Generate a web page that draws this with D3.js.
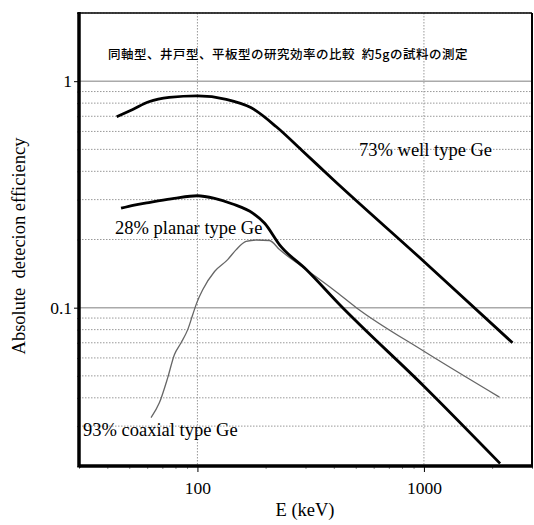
<!DOCTYPE html>
<html>
<head>
<meta charset="utf-8">
<script src="https://cdn.jsdelivr.net/npm/d3@7"></script>
<style>
  body { margin: 0; background: #fff; }
  svg { display: block; }
</style>
</head>
<body>
<svg id="chart" width="534" height="525"></svg>
<script>
const svg = d3.select('#chart');
const serif = '"Liberation Serif", "Times New Roman", Times, "DejaVu Serif", serif';

// data
const titleText = "同軸型、井戸型、平板型の研究効率の比較\u00a0\u00a0約5gの試料の測定";
const energyDomain = [30, 3000];
const effDomain = [0.02, 2];
const xMajorTicks = [100, 1000];
const yMajorTicks = [0.1, 1];

const wellE   = [44, 51.8, 61, 75, 100, 134, 172, 223, 288, 397, 1000, 2460];
const wellEff = [0.696, 0.750, 0.811, 0.848, 0.861, 0.832, 0.765, 0.629, 0.497, 0.368, 0.160, 0.070];

const planarE   = [46, 52.6, 61, 79, 100, 119, 143, 176, 198, 231, 303, 425, 1000, 2170];
const planarEff = [0.275, 0.284, 0.291, 0.304, 0.312, 0.304, 0.287, 0.261, 0.236, 0.189, 0.147, 0.103, 0.045, 0.0205];

const coaxE   = [62.4, 67.9, 73.9, 79.1, 84.7, 90.6, 95.3, 99.3, 105.5, 119, 136, 148, 164, 182, 208, 231, 303, 400, 503, 1000, 2154];
const coaxEff = [0.0327, 0.038, 0.049, 0.062, 0.070, 0.080, 0.093, 0.105, 0.120, 0.1445, 0.163, 0.180, 0.196, 0.199, 0.198, 0.180, 0.147, 0.1197, 0.100, 0.0642, 0.0403];

const seriesNames = ["73% well type Ge", "28% planar type Ge", "93% coaxial type Ge"];

// layout
const plotL = 79, plotR = 532, plotT = 13, plotB = 466;

const x = d3.scaleLog().domain(energyDomain).range([plotL, plotR]);
const y = d3.scaleLog().domain(effDomain).range([plotB, plotT]);

const xMinor = x.ticks().filter(d => !xMajorTicks.includes(d));
const yMinor = y.ticks().filter(d => !yMajorTicks.includes(d));

// grid
const grid = svg.append('g');
grid.selectAll('.hminor').data(yMinor).enter().append('line')
  .attr('x1', plotL).attr('x2', plotR)
  .attr('y1', d => y(d)).attr('y2', d => y(d))
  .attr('stroke', '#999').attr('stroke-width', 1).attr('stroke-dasharray', '1.5,1.5');
grid.selectAll('.vmajor').data(xMajorTicks).enter().append('line')
  .attr('y1', plotT).attr('y2', plotB)
  .attr('x1', d => x(d)).attr('x2', d => x(d))
  .attr('stroke', '#999').attr('stroke-width', 1).attr('stroke-dasharray', '1.5,1.5');
grid.selectAll('.hmajor').data(yMajorTicks).enter().append('line')
  .attr('x1', plotL).attr('x2', plotR)
  .attr('y1', d => y(d)).attr('y2', d => y(d))
  .attr('stroke', '#aaa').attr('stroke-width', 1.5);

// curves
const line = d3.line().x(d => x(d[0])).y(d => y(d[1])).curve(d3.curveMonotoneX);
const zip = (a, b) => a.map((v, i) => [v, b[i]]);

svg.append('path').datum(zip(coaxE, coaxEff))
  .attr('d', line).attr('fill', 'none').attr('stroke', '#666').attr('stroke-width', 1.3);
svg.append('path').datum(zip(wellE, wellEff))
  .attr('d', line).attr('fill', 'none').attr('stroke', '#000').attr('stroke-width', 2.8);
svg.append('path').datum(zip(planarE, planarEff))
  .attr('d', line).attr('fill', 'none').attr('stroke', '#000').attr('stroke-width', 2.8);

// axes
const xAxis = svg.append('g').attr('transform', `translate(0,${plotB})`)
  .call(d3.axisBottom(x).tickValues(xMajorTicks).tickFormat(d3.format('d')).tickSize(6).tickPadding(10));
const xAxisMinor = svg.append('g').attr('transform', `translate(0,${plotB})`)
  .call(d3.axisBottom(x).tickValues(xMinor).tickFormat('').tickSize(3));
const yAxis = svg.append('g').attr('transform', `translate(${plotL},0)`)
  .call(d3.axisLeft(y).tickValues(yMajorTicks).tickFormat(d3.format('~g')).tickSize(5).tickPadding(2));
const yAxisMinor = svg.append('g').attr('transform', `translate(${plotL},0)`)
  .call(d3.axisLeft(y).tickValues(yMinor.concat([2])).tickFormat('').tickSize(4));

[xAxis, xAxisMinor, yAxis, yAxisMinor].forEach(g => g.select('.domain').remove());
[xAxis, yAxis].forEach(g => g.attr('font-family', serif).attr('font-size', 17.5)
  .selectAll('text').attr('fill', '#000'));
xAxisMinor.selectAll('line').attr('stroke', '#888');
yAxisMinor.selectAll('line').attr('stroke', '#000').attr('stroke-dasharray', '1.5,3');

// frame
svg.append('line').attr('x1', plotL).attr('x2', plotR).attr('y1', plotT).attr('y2', plotT)
  .attr('stroke', '#000').attr('stroke-width', 1.5);
svg.append('line').attr('x1', plotR).attr('x2', plotR).attr('y1', plotT).attr('y2', plotB)
  .attr('stroke', '#000').attr('stroke-width', 2);
svg.append('line').attr('x1', plotL).attr('x2', plotR + 1).attr('y1', plotB).attr('y2', plotB)
  .attr('stroke', '#000').attr('stroke-width', 3.5);
svg.append('line').attr('x1', plotL).attr('x2', plotL).attr('y1', plotT - 1).attr('y2', plotB + 1.5)
  .attr('stroke', '#000').attr('stroke-width', 3.5);

// title
svg.append('text').attr('x', 288).attr('y', 59).attr('text-anchor', 'middle')
  .attr('font-size', 12.5).attr('letter-spacing', 0.5).attr('font-weight', 500)
  .attr('font-family', '"Noto Sans CJK JP", "Noto Sans CJK SC", sans-serif')
  .text(titleText);

// series labels
const labelPos = [[359, 156], [115, 234], [83, 436]];
svg.selectAll('.lbl').data(seriesNames).enter().append('text')
  .attr('x', (d, i) => labelPos[i][0]).attr('y', (d, i) => labelPos[i][1])
  .attr('font-family', serif).attr('font-size', 18.5).text(d => d);

// axis titles
svg.append('text').attr('x', 305).attr('y', 516).attr('text-anchor', 'middle')
  .attr('font-family', serif).attr('font-size', 18.5).text('E (keV)');
svg.append('text').attr('transform', 'translate(25,246) rotate(-90)').attr('text-anchor', 'middle')
  .attr('font-family', serif).attr('font-size', 18.5).attr('xml:space', 'preserve')
  .style('white-space', 'pre').text('Absolute  detecion efficiency');
</script>
</body>
</html>
